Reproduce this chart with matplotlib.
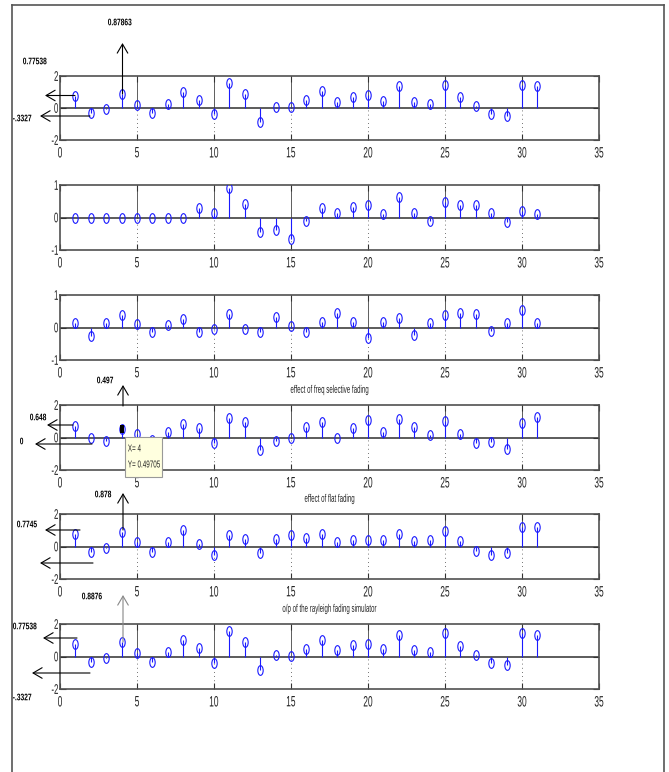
import numpy as np
import matplotlib
matplotlib.use("Agg")
import matplotlib.pyplot as plt
import matplotlib.transforms as mtrans
from matplotlib.path import Path
from matplotlib.textpath import TextPath
from matplotlib.patches import PathPatch, Rectangle, FancyArrowPatch
from matplotlib.font_manager import FontProperties
from matplotlib.lines import Line2D

W, H = 669, 772

# sample index
n = np.arange(1, 32)

# transmitted sequence (panel 1)
tx = [0.775, -0.333, -0.07, 0.879, 0.21, -0.32, 0.28, 1.02, 0.5, -0.4, 1.54,
      0.9, -0.86, 0.07, 0.05, 0.48, 1.04, 0.4, 0.68, 0.8, 0.44, 1.35, 0.4,
      0.27, 1.46, 0.66, 0.12, -0.37, -0.53, 1.43, 1.35]
# channel taps
h1 = [0.0, 0.0, 0.0, 0.0, 0.0, 0.0, 0.0, 0.0, 0.28, 0.14, 0.92, 0.42, -0.44,
      -0.4, -0.66, -0.11, 0.28, 0.14, 0.31, 0.38, 0.11, 0.62, 0.15, -0.11,
      0.47, 0.38, 0.38, 0.15, -0.14, 0.2, 0.11]
h2 = [0.15, -0.25, 0.15, 0.39, 0.12, -0.14, 0.07, 0.27, -0.14, -0.04, 0.42,
      -0.06, -0.14, 0.31, 0.06, -0.14, 0.16, 0.44, 0.16, -0.31, 0.16, 0.28,
      -0.23, 0.14, 0.4, 0.44, 0.43, -0.11, 0.15, 0.54, 0.14]
# freq selective fading
freqsel = [0.72, 0.0, -0.19, 0.49705, 0.2, -0.15, 0.31, 0.82, 0.56, -0.31, 1.2,
           0.93, -0.76, -0.2, 0.0, 0.62, 0.93, 0.0, 0.56, 1.09, 0.31, 1.11,
           0.66, 0.14, 1.03, 0.23, -0.33, -0.25, -0.68, 0.91, 1.24]
# flat fading
flat = [0.7745, -0.33, -0.1, 0.878, 0.27, -0.31, 0.29, 1.0, 0.18, -0.51, 0.72,
        0.47, -0.41, 0.47, 0.72, 0.55, 0.8, 0.29, 0.37, 0.43, 0.37, 0.76, 0.31,
        0.37, 0.94, 0.31, -0.29, -0.55, -0.41, 1.21, 1.21]
# simulator output
simout = [0.775, -0.333, -0.07, 0.8876, 0.21, -0.32, 0.28, 1.02, 0.5, -0.4,
          1.54, 0.9, -0.86, 0.07, 0.05, 0.48, 1.04, 0.4, 0.68, 0.8, 0.44, 1.35,
          0.4, 0.27, 1.46, 0.66, 0.12, -0.37, -0.53, 1.43, 1.35]

series = [tx, h1, h2, freqsel, flat, simout]
ylims = [2, 1, 1, 2, 2, 2]
titles = ["", "", "", "effect of freq selective fading", "effect of flat fading",
          "o/p of the rayleigh fading simulator"]
xticks = [0, 5, 10, 15, 20, 25, 30, 35]

# datatip on the freq selective panel
tip_x, tip_y = 4, 0.49705

# axes rows in pixels from the top (top, bottom)
rows = [(76, 140), (185, 250), (295, 360), (405, 470), (514, 579), (624, 689)]
ax_left, ax_right = 60, 599

fig = plt.figure(figsize=(W / 100, H / 100), dpi=100)
fig.patch.set_facecolor("white")


def sq_text(x, y, s, em=14, sx=0.56, ha="left", va="center", bold=False,
            color="black", zorder=5):
    # squeezed text drawn as a path, x/y in display pixels (origin bottom left)
    fp = FontProperties(family=["Liberation Sans", "DejaVu Sans"],
                        weight="bold" if bold else "normal")
    tp = TextPath((0, 0), s, size=em, prop=fp)
    bb = tp.get_extents()
    if ha == "left":
        dx = -bb.x0 * sx
    elif ha == "center":
        dx = -(bb.x0 + bb.width / 2) * sx
    else:
        dx = -bb.x1 * sx
    if va == "center":
        dy = -(bb.y0 + bb.height / 2)
    elif va == "top":
        dy = -bb.y1
    else:
        dy = -bb.y0
    tr = mtrans.Affine2D().scale(sx, 1).translate(x + dx, y + dy)
    fig.add_artist(PathPatch(tp, transform=tr, facecolor=color, lw=0, zorder=zorder))


def img(x, y):
    # image coords (top origin) -> display coords
    return x, H - y


circ = Path.unit_circle()
ellipse = Path(circ.vertices * [0.55, 1.0], circ.codes)

axes = []
for k, (vals, yl, ttl) in enumerate(zip(series, ylims, titles)):
    top, bot = rows[k]
    ax = fig.add_axes([ax_left / W, 1 - bot / H, (ax_right - ax_left) / W, (bot - top) / H])
    ax.set_xlim(0, 35)
    ax.set_ylim(-yl, yl)

    for xg in xticks[1:-1]:
        ax.axvline(xg, ymin=0.5, ymax=1, color="#444444", lw=0.6, zorder=0)
        ax.axvline(xg, ymin=0, ymax=0.5, color="#444444", lw=0.6, ls=(0, (1, 4)), zorder=0)

    ax.axhline(0, color="#404040", lw=1.2, zorder=1)
    markerline, stemlines, baseline = ax.stem(n, vals)
    markerline.set(marker=ellipse, markersize=7, markerfacecolor="none",
                   markeredgecolor="#1a1aff", markeredgewidth=0.8, zorder=3)
    stemlines.set(color="#1a1aff", linewidth=0.8, zorder=2)
    baseline.set_visible(False)

    ax.set_xticks(xticks)
    ax.set_yticks([-yl, 0, yl])
    ax.tick_params(direction="in", length=4, width=0.8, color="#333333",
                   top=True, right=True, labelbottom=False, labelleft=False)
    for sp in ax.spines.values():
        sp.set_color("#505050")
        sp.set_linewidth(1.2)
    axes.append(ax)

    # tick labels
    for xt in xticks:
        px, _ = ax.transData.transform((xt, 0))
        sq_text(px, H - bot - 7, str(xt), em=15, ha="center", va="top", color="#222222")
    for yt in [-yl, 0, yl]:
        _, py = ax.transData.transform((0, yt))
        sq_text(ax_left - 2, py, str(yt), em=14, ha="right", va="center", color="#222222")

    if ttl:
        sq_text((ax_left + ax_right) / 2, H - top + 15, ttl, em=11, sx=0.56,
                ha="center", va="center", color="#222222")

# annotation arrows: tail -> head, in image pixels
arrows = [
    ((75, 95.5), (45, 95.5), "black"), ((90, 116), (40, 116), "black"),
    ((122.5, 94), (122.5, 43), "black"),
    ((73, 425), (47, 425), "black"), ((92, 444), (35, 444), "black"),
    ((123, 406), (123, 385), "black"),
    ((80, 530), (45, 530), "black"), ((93, 563), (40, 563), "black"),
    ((123, 530), (123, 493), "black"),
    ((77, 638), (43, 638), "black"), ((90, 673), (32, 673), "black"),
    ((123, 642), (123, 595), "#888888"),
]
for a, b, c in arrows:
    fig.add_artist(FancyArrowPatch(img(*a), img(*b), transform=mtrans.IdentityTransform(),
                                   arrowstyle="->,head_length=0.65,head_width=0.38",
                                   mutation_scale=10, lw=0.8, color=c,
                                   shrinkA=0, shrinkB=0))

labels = [
    (23, 61, "0.77538"), (13, 118, "-.3327"), (108, 22, "0.87863"),
    (30, 417, "0.648"), (20, 441, "0"), (97, 380, "0.497"),
    (17, 524, "0.7745"), (95, 494, "0.878"),
    (13, 626, "0.77538"), (13, 697, "-.3327"), (82, 596, "0.8876"),
]
for x, y, s in labels:
    sq_text(*img(x, y), s, em=9.5, sx=0.7, bold=True, ha="left", va="center")

# datatip
ax4 = axes[3]
mx, my = ax4.transData.transform((tip_x, tip_y))
fig.add_artist(Rectangle((mx - 2, my - 4), 4, 8, transform=mtrans.IdentityTransform(),
                         facecolor="black", edgecolor="black", lw=0, zorder=10))
fig.add_artist(Rectangle(img(125, 477), 37, 40, transform=mtrans.IdentityTransform(),
                         facecolor="#ffffdf", edgecolor="#999999", lw=0.8, zorder=10))
sq_text(*img(128, 448), "X= %d" % tip_x, em=10, sx=0.63, ha="left", va="center",
        color="#222222", zorder=11)
sq_text(*img(128, 464), "Y= %.5f" % tip_y, em=10, sx=0.63, ha="left", va="center",
        color="#222222", zorder=11)

# window frame
for (x0, y0), (x1, y1) in [((12, 772), (12, 5)), ((12, 5), (664, 5)), ((664, 5), (664, 772))]:
    fig.add_artist(Line2D([x0, x1], [H - y0, H - y1], transform=mtrans.IdentityTransform(),
                          color="#555555", lw=1.2))

fig.savefig("out.png", dpi=100)
